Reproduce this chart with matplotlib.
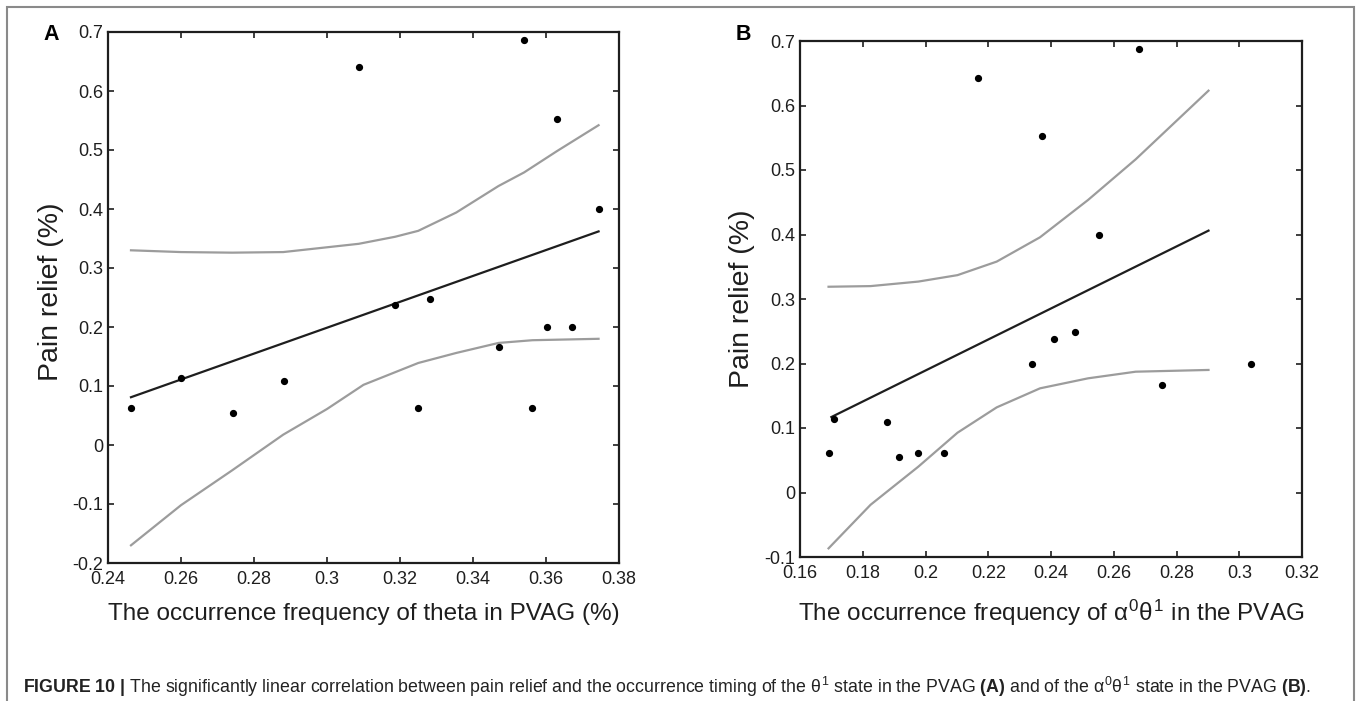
import numpy as np
import matplotlib
matplotlib.use("Agg")
import matplotlib.pyplot as plt
from matplotlib.patches import Rectangle
from matplotlib.ticker import FuncFormatter

plt.rcParams['font.family'] = ['Liberation Sans', 'DejaVu Sans']
plt.rcParams['mathtext.fontset'] = 'custom'
plt.rcParams['mathtext.rm'] = 'Liberation Sans'
plt.rcParams['mathtext.it'] = 'Liberation Sans'
plt.rcParams['mathtext.bf'] = 'Liberation Sans:bold'

# panel A: theta occurrence vs pain relief
a_x = [0.2463, 0.2601, 0.2743, 0.2882, 0.3087, 0.3187, 0.3249, 0.3282,
       0.3470, 0.3540, 0.3563, 0.3602, 0.3631, 0.3670, 0.3744]
a_y = [0.062, 0.114, 0.055, 0.108, 0.641, 0.238, 0.062, 0.248,
       0.166, 0.687, 0.062, 0.200, 0.552, 0.200, 0.400]
a_fit_x = [0.2463, 0.3744]
a_fit_y = [0.081, 0.362]
a_up_x = [0.2463, 0.260, 0.274, 0.288, 0.3087, 0.3187, 0.325, 0.3354,
          0.347, 0.354, 0.3631, 0.3744]
a_up_y = [0.330, 0.327, 0.326, 0.327, 0.341, 0.353, 0.363, 0.394,
          0.439, 0.462, 0.4985, 0.542]
a_lo_x = [0.2463, 0.260, 0.274, 0.288, 0.300, 0.310, 0.325, 0.3354,
          0.347, 0.3563, 0.3744]
a_lo_y = [-0.170, -0.102, -0.043, 0.0175, 0.061, 0.102, 0.139, 0.156,
          0.173, 0.1776, 0.180]
a_xticks = [0.24, 0.26, 0.28, 0.30, 0.32, 0.34, 0.36, 0.38]
a_yticks = [-0.2, -0.1, 0, 0.1, 0.2, 0.3, 0.4, 0.5, 0.6, 0.7]

# panel B: alpha0 theta1 occurrence vs pain relief
b_x = [0.1691, 0.1707, 0.1877, 0.1917, 0.1977, 0.2060, 0.2168, 0.2338,
       0.2370, 0.2408, 0.2478, 0.2554, 0.2679, 0.2755, 0.3039]
b_y = [0.062, 0.114, 0.109, 0.0555, 0.062, 0.062, 0.643, 0.200,
       0.553, 0.2385, 0.249, 0.399, 0.688, 0.1667, 0.200]
b_fit_x = [0.1700, 0.2902]
b_fit_y = [0.117, 0.406]
b_band_x = [0.1691, 0.1825, 0.1977, 0.2102, 0.2227, 0.2365, 0.2518, 0.2670, 0.2902]
b_up_y = [0.319, 0.320, 0.327, 0.337, 0.358, 0.3957, 0.4535, 0.5166, 0.623]
b_lo_y = [-0.0866, -0.019, 0.040, 0.0927, 0.132, 0.1615, 0.177, 0.1873, 0.190]
b_xticks = [0.16, 0.18, 0.20, 0.22, 0.24, 0.26, 0.28, 0.30, 0.32]
b_yticks = [-0.1, 0, 0.1, 0.2, 0.3, 0.4, 0.5, 0.6, 0.7]

W, H = 1360, 701
fig = plt.figure(figsize=(W / 100, H / 100), dpi=100)

ink = '#1e1e1e'
band = '#9c9c9c'
fmt = FuncFormatter(lambda v, p: '%g' % round(v, 4))


def px_axes(left, top, right, bottom):
    return fig.add_axes([left / W, 1 - bottom / H, (right - left) / W, (bottom - top) / H])


def style(ax, xt, yt):
    ax.set_xticks(xt)
    ax.set_yticks(yt)
    ax.set_xlim(xt[0], xt[-1])
    ax.set_ylim(yt[0], yt[-1])
    ax.xaxis.set_major_formatter(fmt)
    ax.yaxis.set_major_formatter(fmt)
    ax.tick_params(direction='in', top=True, right=True, length=4, width=1.2,
                   labelsize=13, colors=ink)
    ax.tick_params(axis='x', pad=5.5)
    ax.tick_params(axis='y', pad=3.5)
    for s in ax.spines.values():
        s.set_linewidth(1.6)
        s.set_color(ink)


axA = px_axes(108, 32, 619, 563)
axA.plot(a_up_x, a_up_y, color=band, lw=1.6)
axA.plot(a_lo_x, a_lo_y, color=band, lw=1.6)
axA.plot(a_fit_x, a_fit_y, color=ink, lw=1.6)
axA.plot(a_x, a_y, 'o', color='black', ms=4.2, ls='none')
style(axA, a_xticks, a_yticks)
axA.set_xlabel('The occurrence frequency of theta in PVAG (%)', fontsize=17.5,
               color=ink, va='center')
axA.xaxis.set_label_coords(0.5, -0.096)
axA.set_ylabel('Pain relief (%)', fontsize=20.5, color=ink, va='center')
axA.yaxis.set_label_coords(-0.1115, 0.51)

axB = px_axes(800, 41, 1302, 557)
axB.plot(b_band_x, b_up_y, color=band, lw=1.6)
axB.plot(b_band_x, b_lo_y, color=band, lw=1.6)
axB.plot(b_fit_x, b_fit_y, color=ink, lw=1.6)
axB.plot(b_x, b_y, 'o', color='black', ms=4.2, ls='none')
style(axB, b_xticks, b_yticks)
axB.set_xlabel(r'The occurrence frequency of $\alpha^0\theta^1$ in the PVAG',
               fontsize=17.5, color=ink, va='center')
axB.xaxis.set_label_coords(0.5, -0.1085)
axB.set_ylabel('Pain relief (%)', fontsize=20.5, color=ink, va='center')
axB.yaxis.set_label_coords(-0.1155, 0.5)

fig.text(51 / W, 1 - 35 / H, 'A', fontsize=15.5, fontweight='bold',
         ha='center', va='center')
fig.text(743 / W, 1 - 35 / H, 'B', fontsize=15.5, fontweight='bold',
         ha='center', va='center')

# outer frame around the whole figure
fig.add_artist(Rectangle((7 / W, -0.02), (1354 - 7) / W, (H - 7) / H + 0.02,
                         transform=fig.transFigure, fill=False,
                         edgecolor='#8a8a8a', lw=1.5))

caption = (r'$\mathbf{FIGURE\ 10\ |}$ The significantly linear correlation between pain relief '
           r'and the occurrence timing of the $\theta^1$ state in the PVAG $\mathbf{(A)}$ and of the '
           r'$\alpha^0\theta^1$ state in the PVAG $\mathbf{(B)}$.')
fig.text(23 / W, 1 - 687 / H, caption, fontsize=12.75, color='#222222',
         ha='left', va='center')

fig.savefig('out.png', dpi=100)
